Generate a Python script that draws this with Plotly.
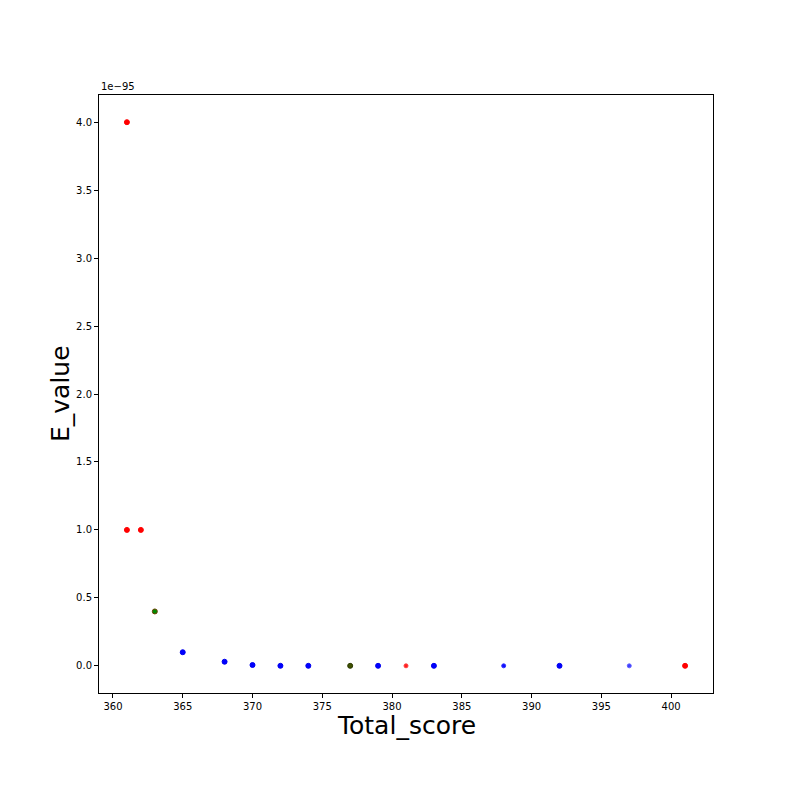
import plotly.graph_objects as go

# Data (E-values in absolute units)
total_score = [361, 361, 362, 363, 365, 368, 370, 372, 374, 377, 379, 381, 383, 388, 392, 397, 401]
e_value = [4e-95, 1e-95, 1e-95, 4e-96, 1e-96, 3e-97, 6e-98, 1e-99, 1e-100, 1e-101, 1e-102,
           1e-103, 1e-104, 1e-105, 1e-106, 1e-107, 1e-108]
point_colors = ["#ff0000", "#ff0000", "#ff0000", "#008a00", "#0000ff", "#0000ff", "#0000ff",
                "#0000ff", "#0000ff", "#3f5200", "#0000ff", "#ff2020", "#0000ff", "#1010ff",
                "#0000ff", "#4040ff", "#ff0000"]
edge_colors = ["#ff0000", "#ff0000", "#ff0000", "#6a4000", "#0000ee", "#0000ee", "#0000ee",
               "#0000ee", "#0000ee", "#2a3800", "#0000ee", "#ff4040", "#0000ee", "#3030ff",
               "#0000ee", "#6060ff", "#ff0000"]
point_sizes = [5, 5, 5, 5, 5, 5, 5, 5, 5, 5, 5, 4, 5, 4, 5, 4, 5]

scale = 1e-95
y_scaled = [v / scale for v in e_value]

fig = go.Figure()
fig.add_trace(go.Scatter(
    x=total_score, y=y_scaled, mode="markers",
    marker=dict(color=point_colors, size=point_sizes, opacity=1,
                line=dict(color=edge_colors, width=1)),
    showlegend=False, hoverinfo="x+y",
))

axis_common = dict(
    showgrid=False, zeroline=False, showline=True, linecolor="black", linewidth=1,
    mirror=True, ticks="outside", ticklen=4, tickwidth=1, tickcolor="black",
    tickfont=dict(family="DejaVu Sans", size=10, color="black"),
)

fig.update_xaxes(range=[359, 403], tickvals=[360, 365, 370, 375, 380, 385, 390, 395, 400],
                 **axis_common)
fig.update_yaxes(range=[-0.2, 4.2], tickvals=[0, 0.5, 1.0, 1.5, 2.0, 2.5, 3.0, 3.5, 4.0],
                 tickformat=".1f", **axis_common)

fig.update_layout(
    width=792, height=792,
    margin=dict(l=91, r=87, t=87, b=107),
    plot_bgcolor="white", paper_bgcolor="white",
    font=dict(family="DejaVu Sans", color="black"),
    annotations=[
        dict(text="Total_score", xref="paper", yref="paper", x=0.5, y=0,
             xanchor="center", yanchor="middle", yshift=-32, showarrow=False,
             font=dict(size=25, family="DejaVu Sans", color="black")),
        dict(text="E_value", xref="paper", yref="paper", x=0, y=0.5,
             xanchor="center", yanchor="middle", xshift=-39, textangle=-90,
             showarrow=False, font=dict(size=25, family="DejaVu Sans", color="black")),
        dict(text="1e\u221295", xref="paper", yref="paper", x=0, y=1,
             xanchor="left", yanchor="bottom", yshift=1, showarrow=False,
             font=dict(size=10, family="DejaVu Sans", color="black")),
    ],
)

fig.write_html("out.html")
